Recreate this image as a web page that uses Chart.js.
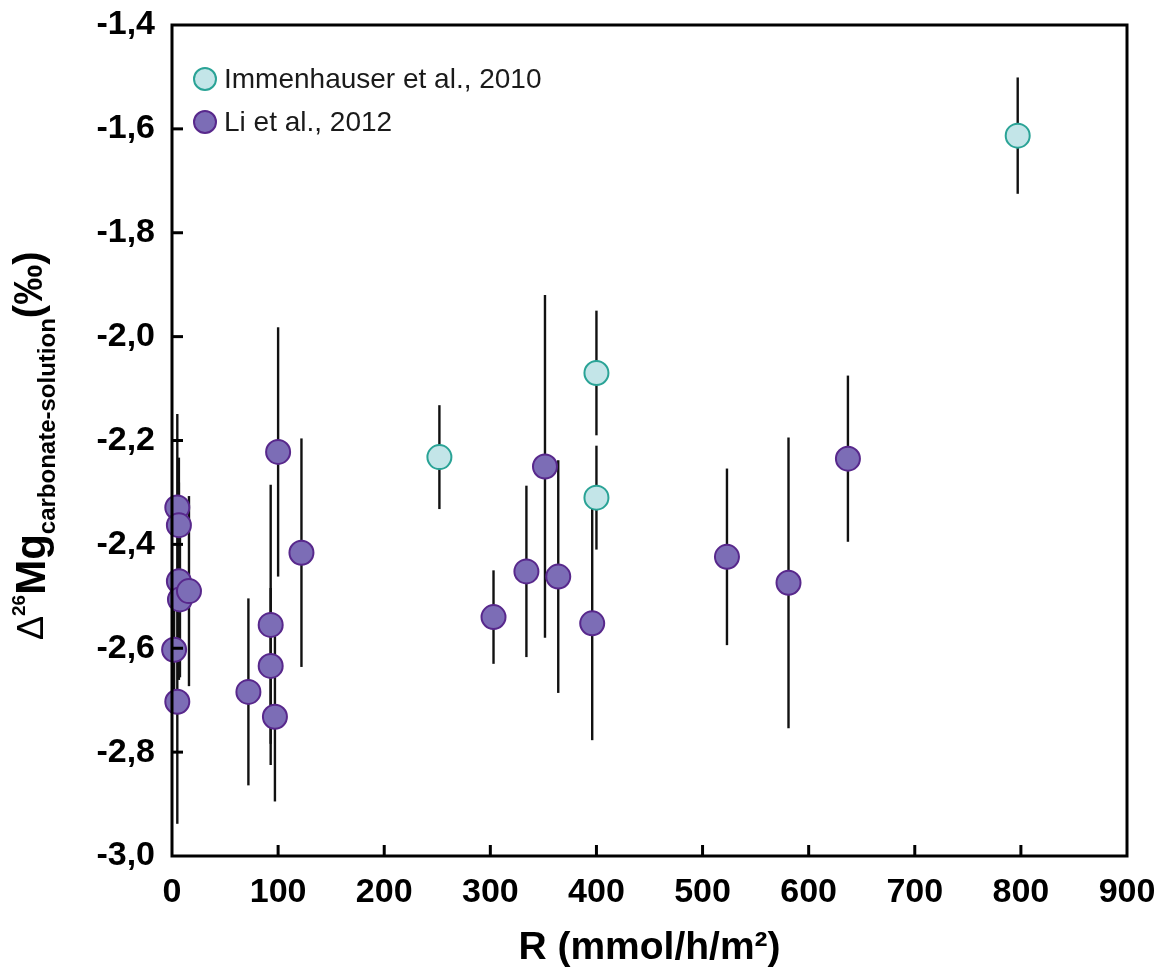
<!DOCTYPE html>
<html>
<head>
<meta charset="utf-8">
<script src="https://cdn.jsdelivr.net/npm/chart.js@4.4.1/dist/chart.umd.min.js"></script>
<style>
  body { margin: 0; background: #fff; }
  #wrap { width: 1165px; height: 972px; position: relative; }
</style>
</head>
<body>
<div id="wrap"><canvas id="mgChart"></canvas></div>
<script>
// --- DATA ---
const xTicks = [0, 100, 200, 300, 400, 500, 600, 700, 800, 900];
const yTicks = [-3.0, -2.8, -2.6, -2.4, -2.2, -2.0, -1.8, -1.6, -1.4];

// Immenhauser et al., 2010
const immR   = [252, 400, 400, 797];
const immD   = [-2.232, -2.07, -2.31, -1.613];
const immErr = [0.10, 0.12, 0.10, 0.112];

// Li et al., 2012
const liR   = [2, 5, 5, 6.5, 6.5, 7.5, 16, 72, 93, 93, 97, 100, 122, 303, 334, 351.5, 364, 396, 523, 581, 637];
const liD   = [-2.603, -2.329, -2.703, -2.363, -2.471, -2.506, -2.49, -2.684, -2.555, -2.634, -2.732, -2.222, -2.416, -2.54, -2.452, -2.25, -2.462, -2.552, -2.424, -2.474, -2.235];
const liErr = [0.10, 0.18, 0.235, 0.13, 0.19, 0.15, 0.183, 0.18, 0.27, 0.15, 0.163, 0.24, 0.22, 0.09, 0.165, 0.33, 0.224, 0.225, 0.17, 0.28, 0.16];

const FONT = "'Liberation Sans', Arial, Helvetica, sans-serif";

function toPoints(xs, ys) {
    return xs.map((x, i) => ({ x: x, y: ys[i] }));
}

// error bars, frame, inward ticks, legend and y title
const decorations = {
    id: 'decorations',
    beforeDatasetsDraw(chart) {
        const { ctx, scales: { x, y } } = chart;
        ctx.save();
        ctx.strokeStyle = '#111';
        ctx.lineWidth = 2.4;
        chart.data.datasets.forEach(ds => {
            ds.data.forEach((p, i) => {
                const e = ds.errors[i];
                const px = x.getPixelForValue(p.x);
                ctx.beginPath();
                ctx.moveTo(px, y.getPixelForValue(p.y + e));
                ctx.lineTo(px, y.getPixelForValue(p.y - e));
                ctx.stroke();
            });
        });
        ctx.restore();
    },
    afterDraw(chart) {
        const { ctx, chartArea: a, scales: { x, y } } = chart;
        ctx.save();
        ctx.strokeStyle = '#000';
        ctx.lineWidth = 3;
        ctx.strokeRect(a.left, a.top, a.right - a.left, a.bottom - a.top);

        // inward ticks
        xTicks.slice(1, -1).forEach(v => {
            const px = x.getPixelForValue(v);
            ctx.beginPath();
            ctx.moveTo(px, a.bottom);
            ctx.lineTo(px, a.bottom - 11);
            ctx.stroke();
        });
        yTicks.slice(1, -1).forEach(v => {
            const py = y.getPixelForValue(v);
            ctx.beginPath();
            ctx.moveTo(a.left, py);
            ctx.lineTo(a.left + 11, py);
            ctx.stroke();
        });

        // legend
        chart.data.datasets.forEach((ds, i) => {
            const cy = 79 + i * 43;
            ctx.beginPath();
            ctx.arc(205, cy, 11, 0, Math.PI * 2);
            ctx.fillStyle = ds.backgroundColor;
            ctx.fill();
            ctx.lineWidth = 2;
            ctx.strokeStyle = ds.borderColor;
            ctx.stroke();
            ctx.fillStyle = '#1a1a1a';
            ctx.font = '28px ' + FONT;
            ctx.textBaseline = 'middle';
            ctx.textAlign = 'left';
            ctx.fillText(ds.label, 224, cy + 1);
        });

        // y axis title: Δ26Mg carbonate-solution (‰)
        ctx.translate(45, 640);
        ctx.rotate(-Math.PI / 2);
        ctx.fillStyle = '#000';
        ctx.textBaseline = 'alphabetic';
        const parts = [
            { t: '\u0394', f: '36px ' + FONT, dy: -2 },
            { t: '26', f: 'bold 19px ' + FONT, dy: -20 },
            { t: 'Mg', f: 'bold 42px ' + FONT, dy: 0 },
            { t: 'carbonate-solution', f: 'bold 24px ' + FONT, dy: 10 },
            { t: '(\u2030)', f: 'bold 40px ' + FONT, dy: -3 }
        ];
        let cx = 0;
        parts.forEach(p => {
            ctx.font = p.f;
            ctx.fillText(p.t, cx, p.dy);
            cx += ctx.measureText(p.t).width;
        });
        ctx.restore();
    }
};

const ctx = document.getElementById('mgChart').getContext('2d');
const mgChart = new Chart(ctx, {
    type: 'scatter',
    data: {
        datasets: [{
            label: 'Immenhauser et al., 2010',
            data: toPoints(immR, immD),
            errors: immErr,
            backgroundColor: '#c3e5e8',
            borderColor: '#2aa396',
            borderWidth: 2,
            pointRadius: 12,
            clip: false
        }, {
            label: 'Li et al., 2012',
            data: toPoints(liR, liD),
            errors: liErr,
            backgroundColor: '#7c6db6',
            borderColor: '#58288c',
            borderWidth: 2,
            pointRadius: 12,
            clip: false
        }]
    },
    options: {
        responsive: true,
        maintainAspectRatio: false,
        animation: false,
        layout: { padding: { top: 25, right: 38, left: 0, bottom: 0 } },
        plugins: { legend: { display: false }, tooltip: { enabled: false } },
        scales: {
            x: {
                type: 'linear',
                min: 0,
                max: 900,
                afterBuildTicks: s => { s.ticks = xTicks.map(v => ({ value: v })); },
                afterFit: s => { s.height = 116; s.paddingLeft = 0; s.paddingRight = 0; },
                grid: { display: false, drawTicks: false },
                border: { display: false },
                ticks: {
                    padding: 16,
                    color: '#000',
                    font: { family: FONT, size: 34, weight: 'bold' },
                    autoSkip: false,
                    maxRotation: 0
                },
                title: {
                    display: true,
                    text: 'R (mmol/h/m\u00b2)',
                    color: '#000',
                    font: { family: FONT, size: 39, weight: 'bold' },
                    padding: { top: 0, bottom: 0 }
                }
            },
            y: {
                type: 'linear',
                min: -3.0,
                max: -1.4,
                afterBuildTicks: s => { s.ticks = yTicks.map(v => ({ value: v })); },
                afterFit: s => { s.width = 172; s.paddingTop = 0; s.paddingBottom = 0; },
                grid: { display: false, drawTicks: false },
                border: { display: false },
                ticks: {
                    padding: 17,
                    color: '#000',
                    font: { family: FONT, size: 34, weight: 'bold' },
                    autoSkip: false,
                    callback: v => v.toFixed(1).replace('.', ',')
                }
            }
        }
    },
    plugins: [decorations]
});
</script>
</body>
</html>
